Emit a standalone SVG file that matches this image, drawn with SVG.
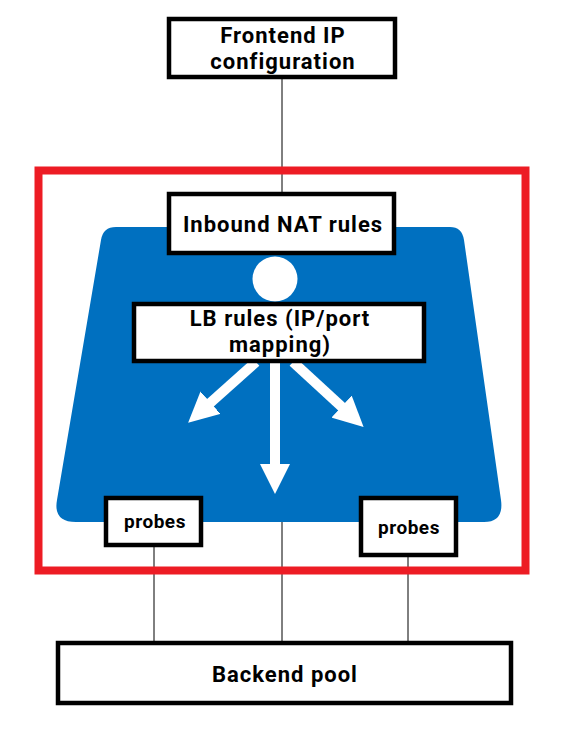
<svg xmlns="http://www.w3.org/2000/svg" width="566" height="733" viewBox="0 0 566 733">
  <style>
    .box { fill: #ffffff; stroke: #000000; stroke-width: 4.5; }
    .lbl { font-family: Roboto, "Open Sans", "Liberation Sans", sans-serif; font-weight: bold; font-size: 22px; letter-spacing: 1px; fill: #000000; text-anchor: middle; }
    .small { font-size: 19px; letter-spacing: 0.5px; }
    .conn { stroke: #000000; stroke-width: 1; fill: none; }
    .arrow { stroke: #ffffff; stroke-width: 10; fill: none; }
  </style>
  <defs>
    <marker id="head" viewBox="0 0 30 30" markerWidth="30" markerHeight="30" markerUnits="userSpaceOnUse" refX="2" refY="15" orient="auto">
      <path d="M0,0 L30,15 L0,30 Z" fill="#ffffff"/>
    </marker>
  </defs>
  <rect width="566" height="733" fill="#ffffff"/>

  <g id="connectors">
    <line class="conn" x1="282" y1="79" x2="282" y2="193"/>
    <line class="conn" x1="154" y1="546" x2="154" y2="642"/>
    <line class="conn" x1="282" y1="520" x2="282" y2="642"/>
    <line class="conn" x1="408" y1="556" x2="408" y2="642"/>
  </g>

  <g id="load-balancer-frame">
    <rect x="38.5" y="170.5" width="487" height="400" fill="none" stroke="#ED1C24" stroke-width="8"/>
  </g>

  <g id="lb-shape">
    <path d="M116,227 L450,227 Q462,227 464,240 L501,500 Q504,522 484,522 L76,522 Q53,522 57,500 L101,240 Q103,227 116,227 Z" fill="#0070C0"/>
    <circle cx="275" cy="279" r="22.5" fill="#ffffff"/>
    <g id="arrows">
      <line class="arrow" x1="275" y1="363" x2="275" y2="466" marker-end="url(#head)"/>
      <line class="arrow" x1="256" y1="362" x2="209" y2="404" marker-end="url(#head)"/>
      <line class="arrow" x1="293" y1="362" x2="343" y2="408" marker-end="url(#head)"/>
    </g>
  </g>

  <g id="frontend-ip">
    <rect class="box" x="169" y="19" width="226" height="58"/>
    <text class="lbl" x="283" y="43">Frontend IP</text>
    <text class="lbl" x="283" y="69">configuration</text>
  </g>

  <g id="inbound-nat">
    <rect class="box" x="169" y="194" width="225" height="59"/>
    <text class="lbl" x="283" y="232">Inbound NAT rules</text>
  </g>

  <g id="lb-rules">
    <rect class="box" x="134" y="304" width="290" height="57"/>
    <text class="lbl" x="280" y="326">LB rules (IP/port</text>
    <text class="lbl" x="280" y="352">mapping)</text>
  </g>

  <g id="probes-left">
    <rect class="box" x="106" y="498" width="95" height="47"/>
    <text class="lbl small" x="155" y="528">probes</text>
  </g>

  <g id="probes-right">
    <rect class="box" x="361" y="498" width="95" height="57"/>
    <text class="lbl small" x="409" y="534">probes</text>
  </g>

  <g id="backend-pool">
    <rect class="box" x="58" y="643" width="453" height="60"/>
    <text class="lbl" x="285" y="682">Backend pool</text>
  </g>
</svg>
